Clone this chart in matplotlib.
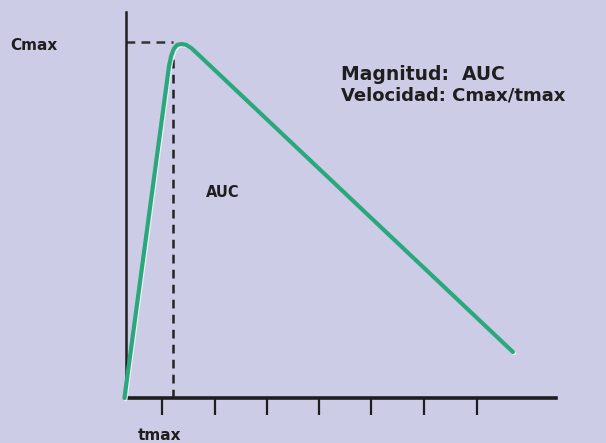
import numpy as np
import matplotlib.pyplot as plt

# concentration-time curve (arbitrary units, Cmax = 100)
t_curve = [-0.03, 0.82, 0.86, 0.91, 0.97, 1.05, 1.14, 1.24, 1.35, 7.37]
c_curve = [0.0, 93.8, 96.6, 98.6, 99.7, 100.0, 99.8, 98.9, 97.4, 13.0]
t_max = 0.895
c_max = 100.0
tick_pos = [0.69, 1.70, 2.69, 3.68, 4.67, 5.68, 6.69]

bg = "#cccce6"
green = "#2aa77c"
dark = "#1e1e1e"

fig = plt.figure(figsize=(6.06, 4.43), dpi=100, facecolor=bg)
ax = fig.add_axes([126 / 606, 45 / 443, 430 / 606, 386 / 443])
ax.set_facecolor(bg)
ax.set_xlim(0, 430 / 52.5)
ax.set_ylim(0, 386 / 3.54)

for side in ["top", "right"]:
    ax.spines[side].set_visible(False)
ax.spines["bottom"].set_linewidth(2.6)
ax.spines["left"].set_linewidth(1.8)
ax.spines["bottom"].set_color(dark)
ax.spines["left"].set_color(dark)

ax.set_xticks(tick_pos)
ax.set_xticklabels([])
ax.set_yticks([])
ax.tick_params(axis="x", direction="out", length=12, width=1.6, color=dark)

# dashed guides to the peak
ax.plot([0, t_max], [c_max + 0.5, c_max + 0.5], ls=(0, (3.5, 2.5)), lw=1.8, color="#333333", clip_on=False)
ax.plot([t_max, t_max], [0, c_max - 1.5], ls=(0, (3.5, 2.5)), lw=1.8, color="#222222", clip_on=False)

# curve with light highlight peeking out underneath
ax.plot(np.array(t_curve) + 0.025, np.array(c_curve) - 0.4, color="#eef6f2", lw=2.6, alpha=0.9,
        solid_capstyle="round", clip_on=False, zorder=3)
ax.plot(t_curve, c_curve, color=green, lw=3.0, solid_capstyle="round", solid_joinstyle="round",
        clip_on=False, zorder=4)

fig.text(10 / 606, 1 - 45 / 443, "Cmax", fontsize=11, fontweight="heavy", color=dark, va="center", ha="left")
fig.text(138 / 606, 1 - 436 / 443, "tmax", fontsize=11, fontweight="heavy", color=dark, va="center", ha="left")
ax.text(1.52, (398 - 193) / 3.54, "AUC", fontsize=10.5, fontweight="heavy", color=dark, va="center", ha="left")
fig.text(341 / 606, 1 - 75 / 443, "Magnitud:  AUC", fontsize=13.5, fontweight="heavy", color=dark, va="center", ha="left")
fig.text(341 / 606, 1 - 96 / 443, "Velocidad: Cmax/tmax", fontsize=13, fontweight="heavy", color=dark, va="center", ha="left")

fig.savefig("out.png", dpi=100, facecolor=bg)
